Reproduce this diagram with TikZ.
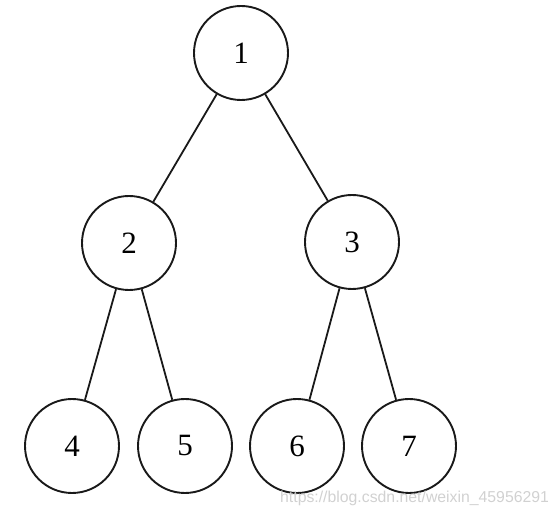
\documentclass[tikz,border=0pt]{standalone}
\usepackage{fontspec}
\setmainfont{Liberation Serif}
\newfontfamily\wmfont{Liberation Sans}
\begin{document}
\begin{tikzpicture}[x=1pt,y=-1pt,
  treenode/.style={circle,draw=black!90,line width=1.9pt,minimum size=94pt,inner sep=0pt,font=\fontsize{31}{34}\selectfont},
  edge/.style={draw=black!90,line width=1.8pt}]
\useasboundingbox (0,0) rectangle (558,516);
\node[treenode] (n1) at (241,53) {1};
\node[treenode] (n2) at (129,243) {2};
\node[treenode] (n3) at (352,242) {3};
\node[treenode] (n4) at (72,446) {4};
\node[treenode] (n5) at (185,446) {5};
\node[treenode] (n6) at (297,446) {6};
\node[treenode] (n7) at (409,446) {7};
\draw[edge] (n1) -- (n2);
\draw[edge] (n1) -- (n3);
\draw[edge] (n2) -- (n4);
\draw[edge] (n2) -- (n5);
\draw[edge] (n3) -- (n6);
\draw[edge] (n3) -- (n7);
\node[anchor=base west,inner sep=0pt,text=black!18,font=\wmfont\fontsize{15.8}{18}\selectfont] (wm) at (280,503) {https://blog.csdn.net/weixin\_45956291};
\end{tikzpicture}
\end{document}
